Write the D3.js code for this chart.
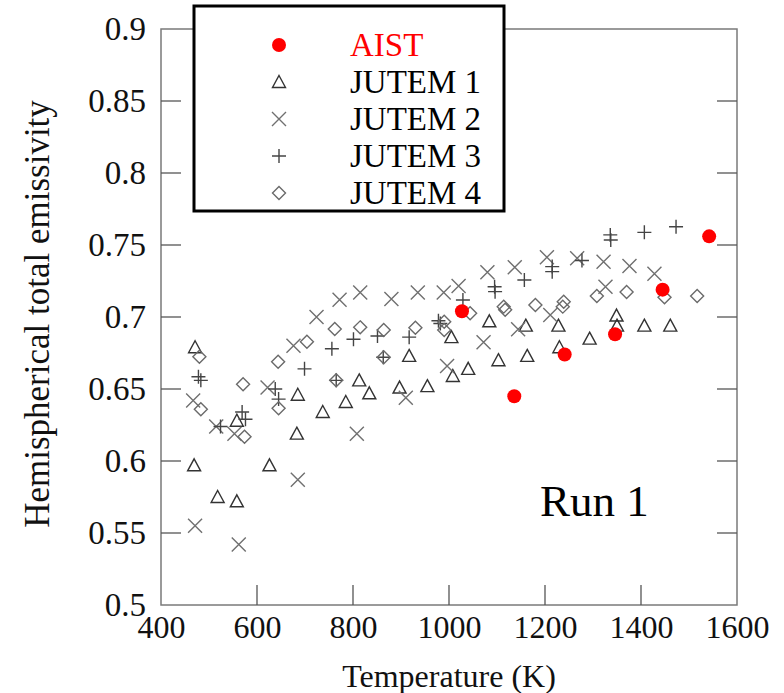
<!DOCTYPE html>
<html>
<head>
<meta charset="utf-8">
<script src="https://cdn.jsdelivr.net/npm/d3@7"></script>
<style>
  html, body { margin: 0; padding: 0; background: #fff; }
  svg { display: block; }
</style>
</head>
<body>
<svg id="chart" width="784" height="693"></svg>
<script>
// Hemispherical total emissivity vs temperature, Run 1

const xTicks = [400, 600, 800, 1000, 1200, 1400, 1600];
const yTicks = [0.5, 0.55, 0.6, 0.65, 0.7, 0.75, 0.8, 0.85, 0.9];
const yTickLabels = ["0.5", "0.55", "0.6", "0.65", "0.7", "0.75", "0.8", "0.85", "0.9"];

const seriesNames = ["AIST", "JUTEM 1", "JUTEM 2", "JUTEM 3", "JUTEM 4"];

// [temperature K, emissivity]
const aist = [
  [1027, 0.704], [1136, 0.645], [1241, 0.674], [1346, 0.688], [1445, 0.719], [1542, 0.756]
];

const jutem1 = [
  [471, 0.679], [469, 0.597], [518, 0.575], [558, 0.572], [558, 0.628], [626, 0.597],
  [683, 0.619], [685, 0.646], [737, 0.634], [785, 0.641], [813, 0.656], [834, 0.647],
  [897, 0.651], [917, 0.673], [955, 0.652], [1005, 0.686], [1008, 0.659], [1040, 0.664],
  [1084, 0.697], [1103, 0.670], [1160, 0.694], [1163, 0.673], [1228, 0.694], [1230, 0.679],
  [1293, 0.685], [1349, 0.701], [1350, 0.694], [1407, 0.694], [1461, 0.694]
];

const jutem2 = [
  [467, 0.642], [471, 0.555], [562, 0.542], [515, 0.624], [553, 0.619], [622, 0.651],
  [676, 0.680], [685, 0.587], [724, 0.700], [772, 0.712], [815, 0.717], [808, 0.619],
  [880, 0.7125], [910, 0.644], [935, 0.717], [989, 0.717], [996, 0.666], [1020, 0.7215],
  [1072, 0.6824], [1080, 0.731], [1137, 0.7345], [1144, 0.6915], [1204, 0.7415], [1211, 0.7014],
  [1267, 0.7408], [1322, 0.7384], [1326, 0.721], [1376, 0.7354], [1428, 0.730]
];

const jutem3 = [
  [478, 0.6585], [483, 0.656], [524, 0.624], [569, 0.634], [576, 0.629], [638, 0.650],
  [645, 0.643], [699, 0.664], [756, 0.678], [765, 0.656], [801, 0.6845], [851, 0.6868],
  [863, 0.672], [917, 0.686], [978, 0.6974], [982, 0.6955], [1029, 0.7118], [1095, 0.721],
  [1096, 0.7176], [1157, 0.7257], [1215, 0.735], [1215, 0.7315], [1277, 0.7392], [1336, 0.757],
  [1337, 0.7535], [1407, 0.7588], [1473, 0.7627]
];

const jutem4 = [
  [480, 0.6724], [483, 0.6359], [571, 0.6533], [574, 0.6169], [644, 0.669], [645, 0.6366],
  [704, 0.6828], [762, 0.6917], [765, 0.656], [815, 0.6928], [864, 0.691], [864, 0.672],
  [930, 0.6926], [990, 0.6967], [990, 0.691], [1044, 0.7026], [1114, 0.7072], [1117, 0.705],
  [1180, 0.7083], [1239, 0.7106], [1237, 0.7072], [1308, 0.7146], [1370, 0.7174], [1449, 0.7137],
  [1517, 0.7146]
];

const SERIF = "'Liberation Serif', 'Times New Roman', Times, serif";

const svg = d3.select("#chart").style("font-family", SERIF);

const x = d3.scaleLinear().domain([400, 1600]).range([161, 737]);
const y = d3.scaleLinear().domain([0.5, 0.9]).range([605, 29]);

// marker painters
const markers = {
  dot: (g) => g.append("circle").attr("r", 7).attr("fill", "#ff0000"),
  tri: (g) => g.append("path").attr("d", "M0,-6.5 L6.5,5.5 L-6.5,5.5 Z")
      .attr("fill", "none").attr("stroke", "#333").attr("stroke-width", 1.4),
  cross: (g) => g.append("path").attr("d", "M-7,-7 L7,7 M-7,7 L7,-7")
      .attr("fill", "none").attr("stroke", "#707070").attr("stroke-width", 1.4),
  plus: (g) => g.append("path").attr("d", "M-7,0 L7,0 M0,-7 L0,7")
      .attr("fill", "none").attr("stroke", "#444").attr("stroke-width", 1.4),
  diamond: (g) => g.append("path").attr("d", "M0,-6.5 L6.5,0 L0,6.5 L-6.5,0 Z")
      .attr("fill", "none").attr("stroke", "#6a6a6a").attr("stroke-width", 1.4)
};

const series = [
  { name: seriesNames[0], data: aist, mark: "dot" },
  { name: seriesNames[1], data: jutem1, mark: "tri" },
  { name: seriesNames[2], data: jutem2, mark: "cross" },
  { name: seriesNames[3], data: jutem3, mark: "plus" },
  { name: seriesNames[4], data: jutem4, mark: "diamond" }
];

// frame
svg.append("rect")
  .attr("x", x(400)).attr("y", y(0.9))
  .attr("width", x(1600) - x(400)).attr("height", y(0.5) - y(0.9))
  .attr("fill", "none").attr("stroke", "#7a7a7a").attr("stroke-width", 1.5);

// inward ticks on left, right and bottom
const tickLen = 20;
const tickG = svg.append("g").attr("stroke", "#555").attr("stroke-width", 1.3);
yTicks.slice(1, -1).forEach(v => {
  tickG.append("line").attr("x1", x(400)).attr("x2", x(400) + tickLen).attr("y1", y(v)).attr("y2", y(v));
  tickG.append("line").attr("x1", x(1600)).attr("x2", x(1600) - tickLen).attr("y1", y(v)).attr("y2", y(v));
});
xTicks.slice(1, -1).forEach(v => {
  tickG.append("line").attr("x1", x(v)).attr("x2", x(v)).attr("y1", y(0.5)).attr("y2", y(0.5) - tickLen);
});

// tick labels through d3 axes with the domain lines hidden
const yAxis = d3.axisLeft(y).tickValues(yTicks).tickSize(0).tickPadding(0)
  .tickFormat((d, i) => yTickLabels[i]);
const gy = svg.append("g").attr("transform", `translate(${x(400) - 15},0)`).call(yAxis);
gy.attr("font-family", null).attr("font-size", null);
gy.select(".domain").remove();
gy.selectAll("text").attr("font-size", 33).attr("fill", "#111")
  .style("font-family", SERIF).attr("dy", "0.33em");

const xAxis = d3.axisBottom(x).tickValues(xTicks).tickSize(0).tickPadding(0)
  .tickFormat(d3.format("d"));
const gx = svg.append("g").attr("transform", `translate(0,${y(0.5) + 10})`).call(xAxis);
gx.attr("font-family", null).attr("font-size", null);
gx.select(".domain").remove();
gx.selectAll("text").attr("font-size", 32).attr("fill", "#111")
  .style("font-family", SERIF).attr("dy", "0.71em");

// axis titles
svg.append("text")
  .attr("x", (x(400) + x(1600)) / 2).attr("y", 687)
  .attr("text-anchor", "middle").attr("font-size", 32).attr("fill", "#111")
  .style("font-family", SERIF)
  .text("Temperature (K)");

svg.append("text")
  .attr("transform", `translate(49,314) rotate(-90)`)
  .attr("text-anchor", "middle").attr("font-size", 35).attr("fill", "#111")
  .style("font-family", SERIF)
  .text("Hemispherical total emissivity");

// data points (JUTEM first, AIST on top)
const plot = svg.append("g");
[1, 2, 3, 4, 0].forEach(si => {
  const s = series[si];
  plot.append("g").selectAll("g").data(s.data).join("g")
    .attr("transform", d => `translate(${x(d[0])},${y(d[1])})`)
    .each(function () { markers[s.mark](d3.select(this)); });
});

// run label
svg.append("text").attr("x", 540).attr("y", 516)
  .attr("font-size", 45).attr("fill", "#000").style("font-family", SERIF).text("Run 1");

// legend
const legend = svg.append("g");
legend.append("rect")
  .attr("x", 194).attr("y", 6).attr("width", 310).attr("height", 205)
  .attr("fill", "#fff").attr("stroke", "#000").attr("stroke-width", 3);
series.forEach((s, i) => {
  const cy = 45 + i * 37;
  const g = legend.append("g").attr("transform", `translate(279,${cy})`);
  markers[s.mark](g);
  legend.append("text").attr("x", 350).attr("y", cy + 11)
    .attr("font-size", 33).attr("fill", i === 0 ? "#ff0000" : "#000")
    .style("font-family", SERIF)
    .text(s.name);
});
</script>
</body>
</html>
